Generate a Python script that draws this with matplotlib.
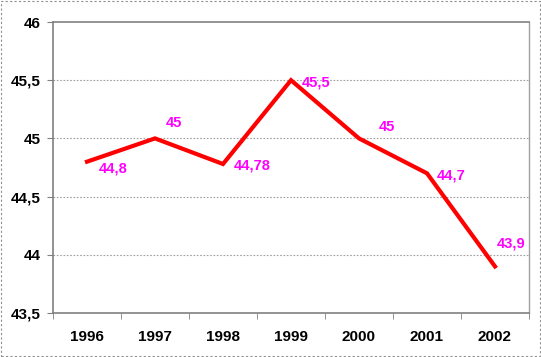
import matplotlib
matplotlib.use("Agg")
import matplotlib.pyplot as plt
from matplotlib.ticker import FuncFormatter, FixedLocator
from matplotlib.patches import Rectangle

years = ["1996", "1997", "1998", "1999", "2000", "2001", "2002"]
values = [44.8, 45.0, 44.78, 45.5, 45.0, 44.7, 43.9]
labels = ["44,8", "45", "44,78", "45,5", "45", "44,7", "43,9"]
yticks = [43.5, 44.0, 44.5, 45.0, 45.5, 46.0]

# label placement (points, relative to each data point; baseline anchored)
label_offsets = [(8.6, -7.9), (7.9, 7.9), (7.9, -4.3), (7.9, -4.3),
                 (14.4, 5.0), (7.2, -4.3), (1.4, 13.7)]

plt.rcParams['font.family'] = ['Liberation Sans', 'DejaVu Sans']

fig = plt.figure(figsize=(5.41, 3.57), dpi=100)
ax = fig.add_axes([53/541, 1-313/357, (529-53)/541, (313-22)/357])

x = list(range(len(years)))
ax.plot(x, values, color='#ff0000', lw=3, solid_joinstyle='miter', zorder=3)
for xi, v, lab, off in zip(x, values, labels, label_offsets):
    ax.annotate(lab, (xi, v), xytext=off, textcoords='offset points',
                color='#ff00ff', fontsize=10.5, fontweight='bold',
                ha='left', va='baseline')

ax.set_xlim(-0.5, len(years) - 0.5)
ax.set_ylim(43.5, 46)
ax.set_yticks(yticks)
ax.yaxis.set_major_formatter(FuncFormatter(lambda v, p: ('%g' % v).replace('.', ',')))
ax.set_xticks(x)
ax.set_xticklabels(years)
ax.xaxis.set_minor_locator(FixedLocator([i - 0.5 for i in range(len(years) + 1)]))
ax.tick_params(axis='x', which='major', length=0, pad=12, labelsize=11)
ax.tick_params(axis='x', which='minor', length=4, color='#808080', direction='out')
ax.tick_params(axis='y', length=4, color='#808080', pad=5, labelsize=11)
for t in ax.get_xticklabels() + ax.get_yticklabels():
    t.set_fontweight('bold')

for v in yticks[1:-1]:
    ax.axhline(v, color='#a0a0a0', lw=0.8, ls=(0, (1.5, 1.5)), zorder=1)

for s in ['left', 'bottom']:
    ax.spines[s].set_color('#808080')
    ax.spines[s].set_linewidth(1.2)
ax.spines['top'].set_color('#808080')
ax.spines['top'].set_linestyle((0, (1.5, 1)))
ax.spines['top'].set_linewidth(1.2)
ax.spines['right'].set_color('#a0a0a0')
ax.spines['right'].set_linewidth(1.0)

fig.patches.append(Rectangle((0.002, 0.003), 0.996, 0.994, transform=fig.transFigure,
                             fill=False, ec='#909090', lw=0.8, ls=(0, (2, 2))))

fig.savefig('out.png', dpi=100)
